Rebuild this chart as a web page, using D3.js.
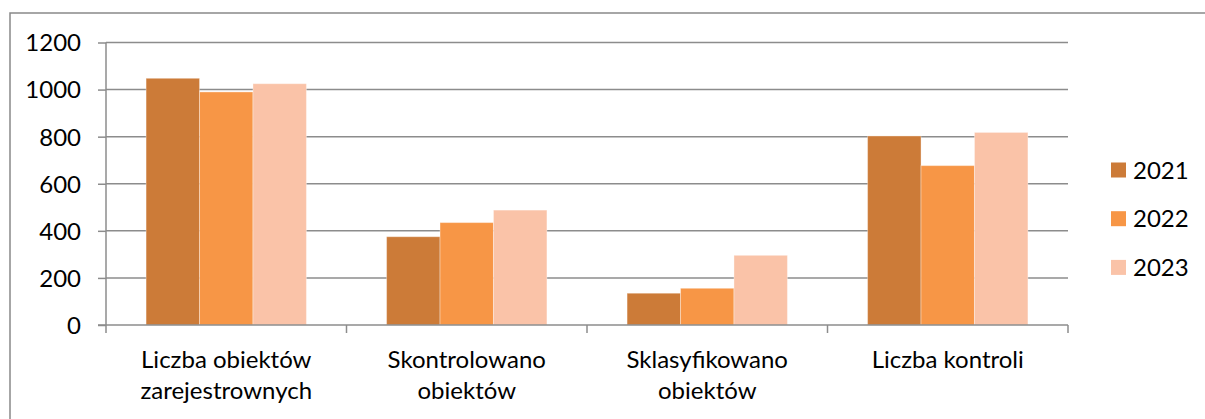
<!DOCTYPE html>
<html>
<head>
<meta charset="utf-8">
<script src="https://cdn.jsdelivr.net/npm/d3@7"></script>
<style>
  body { margin: 0; background: #fff; }
  svg text { font-family: Lato, "Noto Sans", sans-serif; fill: #000; }
</style>
</head>
<body>
<div id="chart"></div>
<script>
const categories = [
  ["Liczba obiektów", "zarejestrownych"],
  ["Skontrolowano", "obiektów"],
  ["Sklasyfikowano", "obiektów"],
  ["Liczba kontroli"]
];
const years = ["2021", "2022", "2023"];
const values2021 = [1048, 375, 135, 803];
const values2022 = [990, 435, 156, 677];
const values2023 = [1025, 488, 296, 818];
const yTicks = [0, 200, 400, 600, 800, 1000, 1200];
const colors = ["#cc7b38", "#f79646", "#fac3a8"];

const series = [values2021, values2022, values2023];
const width = 1205, height = 419;
const plot = { left: 106, right: 1068, top: 42.5, bottom: 325 };

const svg = d3.select("#chart").append("svg")
  .attr("width", width)
  .attr("height", height);

// outer frame (top and left edges visible)
svg.append("path")
  .attr("d", `M10,${height} L10,13 L${width},13`)
  .attr("fill", "none")
  .attr("stroke", "#898989")
  .attr("stroke-width", 1.5);

const x0 = d3.scaleBand()
  .domain(d3.range(categories.length))
  .range([plot.left, plot.right]);

const x1 = d3.scaleBand()
  .domain(d3.range(years.length))
  .range([0, x0.bandwidth()])
  .paddingOuter(0.75)
  .paddingInner(0);

const y = d3.scaleLinear()
  .domain([0, 1200])
  .range([plot.bottom, plot.top]);

// grid lines
svg.append("g")
  .selectAll("line")
  .data(yTicks.filter(d => d > 0))
  .enter()
  .append("line")
  .attr("x1", plot.left)
  .attr("x2", plot.right)
  .attr("y1", d => y(d))
  .attr("y2", d => y(d))
  .attr("stroke", "#8c8c8c")
  .attr("stroke-width", 1.5);

// bars
years.forEach((yr, i) => {
  svg.append("g")
    .selectAll("rect")
    .data(series[i])
    .enter()
    .append("rect")
    .attr("x", (d, j) => x0(j) + x1(i))
    .attr("y", d => y(d))
    .attr("width", x1.bandwidth())
    .attr("height", d => y(0) - y(d))
    .attr("fill", colors[i])
    .attr("stroke", "rgba(255,255,255,0.35)")
    .attr("stroke-width", 1);
});

// y axis
const yAxis = svg.append("g")
  .attr("transform", `translate(${plot.left},0)`)
  .call(d3.axisLeft(y).tickValues(yTicks).tickFormat(d3.format("d")).tickSize(8).tickPadding(17));
yAxis.selectAll("line").attr("stroke", "#8c8c8c").attr("stroke-width", 1.5);
yAxis.select(".domain").attr("stroke", "#8c8c8c").attr("stroke-width", 1.5)
  .attr("d", `M0,${plot.top}V${plot.bottom}`);
yAxis.selectAll("text").style("font-size", "24px").attr("dy", "0.35em");

// x axis
const xAxisG = svg.append("g")
  .attr("transform", `translate(0,${plot.bottom})`);
xAxisG.append("line")
  .attr("x1", plot.left - 8).attr("x2", plot.right)
  .attr("stroke", "#8c8c8c").attr("stroke-width", 1.5);
xAxisG.selectAll(".tick")
  .data(d3.range(categories.length + 1))
  .enter()
  .append("line")
  .attr("x1", d => d < categories.length ? x0(d) : plot.right)
  .attr("x2", d => d < categories.length ? x0(d) : plot.right)
  .attr("y1", 0).attr("y2", 8)
  .attr("stroke", "#8c8c8c").attr("stroke-width", 1.5);

const labels = xAxisG.selectAll(".cat")
  .data(categories)
  .enter()
  .append("text")
  .attr("class", "cat")
  .attr("text-anchor", "middle")
  .style("font-size", "24px");
labels.selectAll("tspan")
  .data((d, j) => d.map(line => ({ line, j })))
  .enter()
  .append("tspan")
  .attr("x", d => x0(d.j) + x0.bandwidth() / 2)
  .attr("y", (d, k) => 43 + k * 31)
  .text(d => d.line);

// legend
const legend = svg.append("g")
  .selectAll("g")
  .data(years)
  .enter()
  .append("g")
  .attr("transform", (d, i) => `translate(1111,${170 + i * 48.7})`);
legend.append("rect")
  .attr("x", 0).attr("y", -7.5)
  .attr("width", 15).attr("height", 15)
  .attr("fill", (d, i) => colors[i]);
legend.append("text")
  .attr("x", 22).attr("y", 0).attr("dy", "0.36em")
  .style("font-size", "24px")
  .text(d => d);
</script>
</body>
</html>
